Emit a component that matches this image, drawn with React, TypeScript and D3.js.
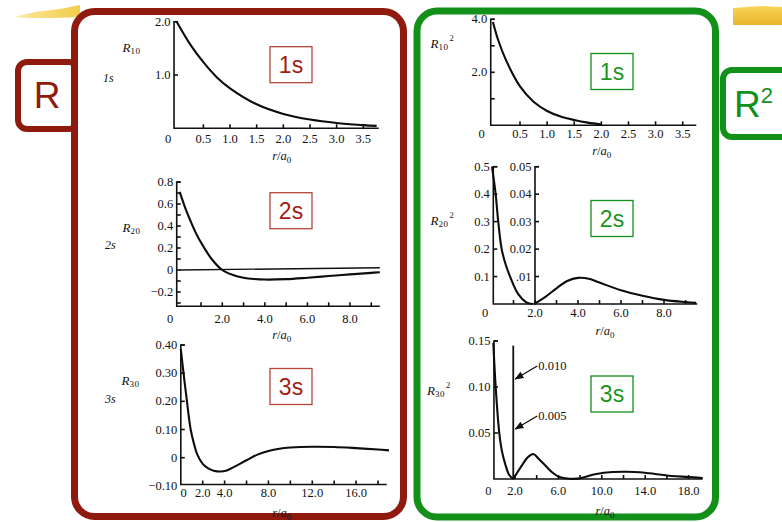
import React from "react";
import * as d3 from "d3";

// ---- values ----
// left column: R(r)
const r10 = [0, 0.25, 0.5, 0.75, 1.0, 1.5, 2.0, 2.5, 3.0, 3.5, 3.75];
const R10 = [2.0, 1.58, 1.24, 0.96, 0.75, 0.45, 0.27, 0.165, 0.1, 0.06, 0.045];

const r20 = [0, 0.25, 0.5, 0.75, 1.0, 1.5, 2.0, 2.5, 3.0, 3.5, 4.0, 5.0, 6.0, 7.0, 8.0, 9.0, 9.4];
const R20 = [0.71, 0.57, 0.45, 0.34, 0.25, 0.1, 0, -0.045, -0.07, -0.082, -0.087, -0.083, -0.07, -0.055, -0.04, -0.026, -0.02];
const zeroLineR = [0, 9.4];
const zeroLineV = [0, 0.02];

const r30 = [0, 0.25, 0.5, 0.9, 1.2, 1.5, 2.0, 2.5, 3.0, 3.6, 4.2, 5.0, 6.0, 7.0, 8.0, 9.0, 10, 12, 14, 16, 18, 19];
const R30 = [0.385, 0.3, 0.22, 0.1, 0.05, 0.012, -0.022, -0.038, -0.046, -0.049, -0.045, -0.03, -0.009, 0.011, 0.024, 0.032, 0.036, 0.039, 0.038, 0.034, 0.029, 0.026];

// right column: R(r)^2
const r10sq = [0, 0.1, 0.25, 0.5, 0.75, 1.0, 1.25, 1.5, 1.75, 2.0];
const R10sq = [3.9, 3.2, 2.42, 1.47, 0.89, 0.54, 0.33, 0.2, 0.1, 0.03];

const r20sqIn = [0, 0.17, 0.29, 0.45, 0.65, 0.84, 1.22, 1.6, 1.9];
const R20sqIn = [0.5, 0.4, 0.3, 0.2, 0.14, 0.1, 0.036, 0.006, 0];
const r20sqOut = [1.95, 2.5, 3.0, 3.5, 4.0, 4.5, 5.0, 6.0, 7.0, 8.0, 9.0, 9.5];
const R20sqOut = [0, 0.0027, 0.0057, 0.0084, 0.0095, 0.0092, 0.0078, 0.005, 0.003, 0.0015, 0.0007, 0.0004];

const r30sqIn = [0, 0.22, 0.55, 0.8, 1.08, 1.47, 1.84];
const R30sqIn = [0.148, 0.1, 0.05, 0.03, 0.017, 0.0043, 0];
const r30sqOut = [1.84, 2.3, 2.76, 3.2, 3.69, 4.2, 4.9, 5.5, 6.1, 7.0, 8.0, 8.45, 9.5, 11, 12.3, 13.5, 14.4, 16.4, 18, 19.3];
const R30sqOut = [0, 0.0008, 0.00157, 0.0022, 0.0025, 0.002, 0.00123, 0.0006, 0.0002, 0.00003, 0.00006, 0.0002, 0.0005, 0.0007, 0.00073, 0.00068, 0.00057, 0.0003, 0.0002, 0.0001];
const markerR = [1.84];
const markerTop = [0.145];
const arrowValues = [0.01, 0.005];
const arrowLabels = ["0.010", "0.005"];

// ticks
const xTicksA = [0.5, 1.0, 1.5, 2.0, 2.5, 3.0, 3.5];
const xLabelsA = ["0.5", "1.0", "1.5", "2.0", "2.5", "3.0", "3.5"];
const xTicksB = [1, 2, 3, 4, 5, 6, 7, 8, 9];
const xLabelTicksB = [2, 4, 6, 8];
const xLabelsB = ["2.0", "4.0", "6.0", "8.0"];
const xTicksC = [2, 4, 6, 8, 10, 12, 14, 16, 18];
const xLabelTicksC3 = [2, 4, 8, 12, 16];
const xLabelsC3 = ["2.0", "4.0", "8.0", "12.0", "16.0"];
const xLabelTicksC6 = [2, 6, 10, 14, 18];
const xLabelsC6 = ["2.0", "6.0", "10.0", "14.0", "18.0"];

const yTicks1 = [1, 2];
const yLabels1 = ["1.0", "2.0"];
const yTicks2 = [-0.3, -0.2, -0.1, 0, 0.1, 0.2, 0.3, 0.4, 0.5, 0.6, 0.7, 0.8];
const yLabelTicks2 = [-0.2, 0, 0.2, 0.4, 0.6, 0.8];
const yLabels2 = ["\u22120.2", "0", "0.2", "0.4", "0.6", "0.8"];
const yTicks3 = [0, 0.1, 0.2, 0.3, 0.4];
const yLabelTicks3 = [-0.1, 0, 0.1, 0.2, 0.3, 0.4];
const yLabels3 = ["\u22120.10", "0", "0.10", "0.20", "0.30", "0.40"];
const yTicks4 = [1, 2, 3, 4];
const yLabelTicks4 = [2, 4];
const yLabels4 = ["2.0", "4.0"];
const yTicks5 = [0.1, 0.2, 0.3, 0.4, 0.5];
const yLabels5 = ["0.1", "0.2", "0.3", "0.4", "0.5"];
const yTicks5b = [0.01, 0.02, 0.03, 0.04, 0.05];
const yLabels5b = [".01", "0.02", "0.03", "0.04", "0.05"];
const yTicks6 = [0.05, 0.1, 0.15];
const yLabels6 = ["0.05", "0.10", "0.15"];

const RED = "#8f1b0f";
const RED_TXT = "#a21d11";
const GREEN = "#12901a";
const GREEN_TXT = "#1a961f";
const SERIF = "'Liberation Serif', 'DejaVu Serif', serif";
const SANS = "'Liberation Sans', Arial, sans-serif";

const lineOf = (rs: number[], x: any, y: any) =>
  d3
    .line<number>()
    .x((_, i) => x(rs[i]))
    .y((d) => y(d))
    .curve(d3.curveCatmullRom.alpha(0.5));

function Axes({ p }: { p: any }) {
  const { x, y } = p;
  const ox = x(p.axisR);
  const oy = y(p.axisV);
  const top = y(p.yTopV);
  const tk = 4;
  return (
    <g stroke="#111" strokeWidth={1.6} fill="none">
      <path d={`M${ox + tk},${top}H${ox}V${oy}H${x(p.xEndR)}`} />
      {p.yTicks.map((v: number) => (
        <line key={"yt" + v} x1={ox} x2={ox + tk} y1={y(v)} y2={y(v)} />
      ))}
      {p.xTicks.map((v: number) => (
        <line key={"xt" + v} x1={x(v)} x2={x(v)} y1={oy} y2={oy - tk} />
      ))}
    </g>
  );
}

function TickText({ p }: { p: any }) {
  const { x, y } = p;
  const ox = x(p.axisR);
  return (
    <g fontFamily={SERIF} fontSize={12.5} fill="#111">
      {p.yLabelTicks.map((v: number, i: number) => (
        <text key={"yl" + v} x={ox - 3.5} y={y(v) + 4} textAnchor="end">
          {p.yLabels[i]}
        </text>
      ))}
      {p.xLabelTicks.map((v: number, i: number) => (
        <text key={"xl" + v} x={x(v)} y={p.labelBase} textAnchor="middle">
          {p.xLabels[i]}
        </text>
      ))}
      <text x={p.zeroX} y={p.labelBase} textAnchor="middle">0</text>
      <text x={p.titleX} y={p.titleY} textAnchor="middle">
        <tspan fontStyle="italic">r</tspan>/<tspan fontStyle="italic">a</tspan>
        <tspan fontSize={9} dy={3}>0</tspan>
      </text>
      <text x={p.rLabel[0]} y={p.rLabel[1]} fontStyle="italic" fontSize={13}>
        R
        <tspan fontSize={9} dy={2} fontStyle="normal" letterSpacing={0.5}>
          {p.sub}
        </tspan>
        {p.sq ? (
          <tspan fontSize={8.5} dy={-9} dx={1} fontStyle="normal">2</tspan>
        ) : null}
      </text>
      {p.state ? (
        <text x={p.state[0]} y={p.state[1]} fontStyle="italic" fontSize={12}>
          {p.state[2]}
        </text>
      ) : null}
    </g>
  );
}

function TagBox({ bx, by, text, color, txt }: any) {
  return (
    <g>
      <rect x={bx} y={by} width={42} height={36} fill="#fff" stroke={color} strokeWidth={1.3} />
      <text x={bx + 21} y={by + 26} textAnchor="middle" fontFamily={SANS} fontSize={23} fill={txt}>
        {text}
      </text>
    </g>
  );
}

export default function App() {
  // left column scales
  const p1 = {
    x: d3.scaleLinear().domain([0, 3.5]).range([176.7, 363.3]),
    y: d3.scaleLinear().domain([0, 2]).range([128.3, 21.7]),
    axisR: -0.05, axisV: 0, xEndR: 3.79, yTopV: 2,
    yTicks: yTicks1, yLabelTicks: yTicks1, yLabels: yLabels1,
    xTicks: xTicksA, xLabelTicks: xTicksA, xLabels: xLabelsA,
    labelBase: 143, zeroX: 168, titleX: 281.7, titleY: 160,
    rLabel: [122.5, 51.5], sub: "10", sq: false, state: [103, 82, "1s"],
  };
  const p2 = {
    x: d3.scaleLinear().domain([0, 8]).range([179.7, 350]),
    y: d3.scaleLinear().domain([0, 0.8]).range([270, 182]),
    axisR: -0.14, axisV: -0.33, xEndR: 9.4, yTopV: 0.8,
    yTicks: yTicks2, yLabelTicks: yLabelTicks2, yLabels: yLabels2,
    xTicks: xTicksB, xLabelTicks: xLabelTicksB, xLabels: xLabelsB,
    labelBase: 322.7, zeroX: 170, titleX: 281.7, titleY: 339,
    rLabel: [122.5, 231.5], sub: "20", sq: false, state: [105, 249, "2s"],
  };
  const p3 = {
    x: d3.scaleLinear().domain([0, 18]).range([180.8, 378]),
    y: d3.scaleLinear().domain([0, 0.4]).range([457.7, 345]),
    axisR: 0, axisV: -0.095, xEndR: 18.8, yTopV: 0.4,
    yTicks: yTicks3, yLabelTicks: yLabelTicks3, yLabels: yLabels3,
    xTicks: xTicksC, xLabelTicks: xLabelTicksC3, xLabels: xLabelsC3,
    labelBase: 496.7, zeroX: 183.5, titleX: 281.7, titleY: 516.5,
    rLabel: [121.5, 385], sub: "30", sq: false, state: [105, 403, "3s"],
  };
  // right column scales
  const q1 = {
    x: d3.scaleLinear().domain([0, 3.5]).range([492.9, 682.7]),
    y: d3.scaleLinear().domain([0, 4]).range([125.3, 19.3]),
    axisR: -0.04, axisV: 0, xEndR: 3.75, yTopV: 4,
    yTicks: yTicks4, yLabelTicks: yLabelTicks4, yLabels: yLabels4,
    xTicks: xTicksA, xLabelTicks: xTicksA, xLabels: xLabelsA,
    labelBase: 138, zeroX: 481.7, titleX: 601.7, titleY: 155,
    rLabel: [430.5, 48], sub: "10", sq: true,
  };
  const q2 = {
    x: d3.scaleLinear().domain([0, 8]).range([492, 664]),
    y: d3.scaleLinear().domain([0, 0.5]).range([304, 166.7]),
    axisR: 0.06, axisV: 0, xEndR: 9.55, yTopV: 0.5,
    yTicks: yTicks5, yLabelTicks: yTicks5, yLabels: yLabels5,
    xTicks: xTicksB, xLabelTicks: xLabelTicksB, xLabels: xLabelsB,
    labelBase: 316.7, zeroX: 485, titleX: 605, titleY: 335,
    rLabel: [430.5, 225], sub: "20", sq: true,
  };
  const q2b = {
    x: q2.x,
    y: d3.scaleLinear().domain([0, 0.05]).range([304, 166.7]),
  };
  const q3 = {
    x: d3.scaleLinear().domain([0, 18]).range([493.3, 688.6]),
    y: d3.scaleLinear().domain([0, 0.15]).range([479, 341]),
    axisR: 0.06, axisV: 0, xEndR: 19.3, yTopV: 0.15,
    yTicks: yTicks6, yLabelTicks: yTicks6, yLabels: yLabels6,
    xTicks: xTicksC, xLabelTicks: xLabelTicksC6, xLabels: xLabelsC6,
    labelBase: 495, zeroX: 488.3, titleX: 605, titleY: 515,
    rLabel: [427, 395], sub: "30", sq: true,
  };
  const q3fine = d3.scaleLinear().domain([0, 0.01]).range([479, 379]);

  const curve = { fill: "none", stroke: "#0d0d0d", strokeWidth: 2.1 } as const;
  const bx = q2.x(2);

  return (
    <svg width={782} height={522} style={{ position: "absolute", left: 0, top: 0, background: "#fff" }}>
      <defs>
        <linearGradient id="yl" x1="0" x2="1" y1="0" y2="0">
          <stop offset="0" stopColor="#fbeaa0" />
          <stop offset="1" stopColor="#f2cc4a" />
        </linearGradient>
        <linearGradient id="yr" x1="0" x2="0" y1="0" y2="1">
          <stop offset="0" stopColor="#f8d55a" />
          <stop offset="1" stopColor="#eab42a" />
        </linearGradient>
        <marker id="ah" viewBox="0 0 10 10" refX="9" refY="5" markerWidth="7" markerHeight="7" orient="auto">
          <path d="M0,1L10,5L0,9Z" fill="#111" />
        </marker>
      </defs>

      {/* highlighter marks */}
      <polygon points="14,17 35,12 60,9 80,5 80,17 55,18 30,18" fill="url(#yl)" />
      <polygon points="733,8 760,6 782,7 782,25 733,25" fill="url(#yr)" />

      {/* side tags */}
      <rect x={18} y={62} width={60} height={67} rx={9} fill="#fff" stroke={RED} strokeWidth={6} />
      <text x={47} y={108} textAnchor="middle" fontFamily={SANS} fontSize={37} fill={RED}>R</text>
      <rect x={723} y={70} width={80} height={67} rx={9} fill="#fff" stroke={GREEN} strokeWidth={6} />
      <text x={734} y={117} fontFamily={SANS} fontSize={37} fill={GREEN}>
        R<tspan fontSize={22} dy={-14}>2</tspan>
      </text>

      {/* frames */}
      <rect x={74.5} y={11.5} width={329} height={505} rx={20} fill="#fff" stroke={RED} strokeWidth={7} />
      <rect x={417} y={11} width={298.5} height={506} rx={20} fill="#fff" stroke={GREEN} strokeWidth={7} />

      {/* left column */}
      {[p1, p2, p3].map((p, i) => (
        <g key={"L" + i}>
          <Axes p={p} />
          <TickText p={p} />
        </g>
      ))}
      <path d={lineOf(r10, p1.x, p1.y)(R10) || ""} {...curve} />
      <path d={lineOf(zeroLineR, p2.x, p2.y)(zeroLineV) || ""} fill="none" stroke="#111" strokeWidth={1.4} />
      <path d={lineOf(r20, p2.x, p2.y)(R20) || ""} {...curve} />
      <path d={lineOf(r30, p3.x, p3.y)(R30) || ""} {...curve} />

      {/* right column */}
      {[q1, q2, q3].map((p, i) => (
        <g key={"Rt" + i}>
          <Axes p={p} />
          <TickText p={p} />
        </g>
      ))}
      {/* second axis for 2s */}
      <g stroke="#111" strokeWidth={1.6} fill="none">
        <path d={`M${bx + 4},${q2b.y(0.05)}H${bx}V${q2b.y(0)}`} />
        {yTicks5b.map((v) => (
          <line key={v} x1={bx} x2={bx + 4} y1={q2b.y(v)} y2={q2b.y(v)} />
        ))}
      </g>
      <g fontFamily={SERIF} fontSize={12.5} fill="#111">
        {yTicks5b.map((v, i) => (
          <text key={v} x={bx - 3.5} y={q2b.y(v) + 4} textAnchor="end">{yLabels5b[i]}</text>
        ))}
      </g>
      <path d={lineOf(r10sq, q1.x, q1.y)(R10sq) || ""} {...curve} />
      <path d={lineOf(r20sqIn, q2.x, q2.y)(R20sqIn) || ""} {...curve} />
      <path d={lineOf(r20sqOut, q2.x, q2b.y)(R20sqOut) || ""} {...curve} />

      {/* 3s: marker line with scale arrows */}
      {markerR.map((m, i) => (
        <line key={m} x1={q3.x(m)} x2={q3.x(m)} y1={q3.y(0)} y2={q3.y(markerTop[i])} stroke="#111" strokeWidth={1.8} />
      ))}
      {arrowValues.map((v, i) => (
        <g key={v}>
          <line
            x1={q3.x(markerR[0]) + 24}
            y1={q3fine(v) - 13}
            x2={q3.x(markerR[0]) + 2}
            y2={q3fine(v)}
            stroke="#111"
            strokeWidth={1.3}
            markerEnd="url(#ah)"
          />
          <text x={q3.x(markerR[0]) + 25} y={q3fine(v) - 9} fontFamily={SERIF} fontSize={12.5} fill="#111">
            {arrowLabels[i]}
          </text>
        </g>
      ))}
      <path d={lineOf(r30sqIn, q3.x, q3.y)(R30sqIn) || ""} {...curve} />
      <path d={lineOf(r30sqOut, q3.x, q3fine)(R30sqOut) || ""} {...curve} />

      {/* orbital tags */}
      <TagBox bx={270} by={46.7} text="1s" color="#b3473a" txt={RED_TXT} />
      <TagBox bx={270} by={192.7} text="2s" color="#b3473a" txt={RED_TXT} />
      <TagBox bx={270} by={368.5} text="3s" color="#b3473a" txt={RED_TXT} />
      <TagBox bx={591} by={53.5} text="1s" color={GREEN} txt={GREEN_TXT} />
      <TagBox bx={591} by={200.5} text="2s" color={GREEN} txt={GREEN_TXT} />
      <TagBox bx={591} by={376} text="3s" color={GREEN} txt={GREEN_TXT} />
    </svg>
  );
}
